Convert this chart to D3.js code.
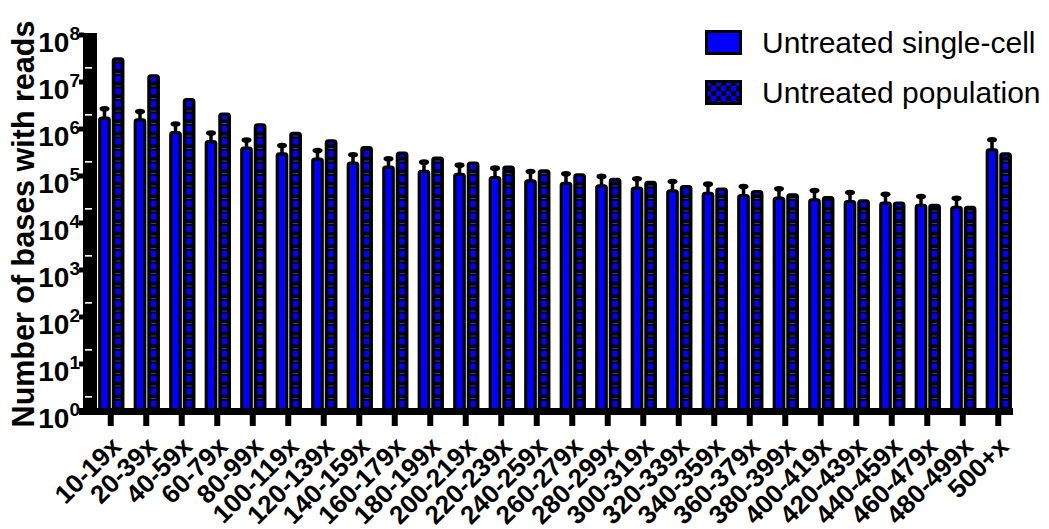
<!DOCTYPE html>
<html><head><meta charset="utf-8">
<script src="https://cdn.jsdelivr.net/npm/d3@7"></script>
<style>body{margin:0;background:#fff}svg{display:block}</style>
</head><body>
<svg id="c" width="1049" height="529"></svg>
<script>
const categories = ["10-19x","20-39x","40-59x","60-79x","80-99x","100-119x","120-139x","140-159x","160-179x","180-199x","200-219x","220-239x","240-259x","260-279x","280-299x","300-319x","320-339x","340-359x","360-379x","380-399x","400-419x","420-439x","440-459x","460-479x","480-499x","500+x"];
const singleCell = [1.7e6,1.57e6,8.4e5,5.4e5,3.9e5,2.97e5,2.28e5,1.87e5,1.54e5,1.25e5,1.09e5,9.3e4,7.9e4,7.0e4,6.2e4,5.5e4,4.84e4,4.3e4,3.85e4,3.37e4,3.12e4,2.87e4,2.64e4,2.36e4,2.14e4,3.6e5];
const singleCellErrTop = [2.7e6,2.35e6,1.28e6,8.2e5,5.8e5,4.45e5,3.5e5,2.83e5,2.32e5,1.97e5,1.7e5,1.47e5,1.25e5,1.11e5,9.8e4,8.7e4,7.6e4,6.7e4,5.98e4,5.35e4,4.9e4,4.46e4,4.1e4,3.66e4,3.37e4,5.9e5];
const population = [3.1e7,1.35e7,4.2e6,2.07e6,1.23e6,8.1e5,5.6e5,4.04e5,3.06e5,2.39e5,1.87e5,1.54e5,1.29e5,1.06e5,8.5e4,7.3e4,5.98e4,5.24e4,4.68e4,3.98e4,3.49e4,2.97e4,2.64e4,2.36e4,2.14e4,2.97e5];
const yTicks = [1,10,100,1e3,1e4,1e5,1e6,1e7,1e8];
const seriesNames = ["Untreated single-cell","Untreated population"];

const svg = d3.select("#c");
const x = d3.scaleBand().domain(categories).range([93, 1016]);
const y = d3.scaleLog().domain([1, 1e8]).range([411, 35]);
const step = x.step();
const FONT = "Liberation Sans, Arial, sans-serif";

const defs = svg.append("defs");
const pat = defs.append("pattern").attr("id","chk").attr("patternUnits","userSpaceOnUse")
  .attr("x", x(categories[0]) + x.bandwidth()/2 + 4).attr("y", 0)
  .attr("width", step).attr("height", 12.5);
pat.append("rect").attr("width", step).attr("height", 12.5).attr("fill","#000");
pat.append("rect").attr("x",0.5).attr("y",1).attr("width",5.5).attr("height",6).attr("fill","#0000ff");
pat.append("rect").attr("x",0.5).attr("y",10.5).attr("width",5.5).attr("height",0.8).attr("fill","#4a4aff");
const pat2 = defs.append("pattern").attr("id","chk2").attr("patternUnits","userSpaceOnUse")
  .attr("x", 706).attr("y", 81).attr("width", 10).attr("height", 10);
pat2.append("rect").attr("width",10).attr("height",10).attr("fill","#000");
pat2.append("rect").attr("width",5).attr("height",5).attr("fill","#0000ff");
pat2.append("rect").attr("x",5).attr("y",5).attr("width",5).attr("height",5).attr("fill","#0000ff");

const cx = d => x(d) + x.bandwidth()/2;
const g = svg.append("g");

// single-cell bars
g.selectAll(".s").data(categories).join("rect")
  .attr("x", d => cx(d) - 11).attr("width", 9.5)
  .attr("y", (d,i) => y(singleCell[i])).attr("height", (d,i) => y(1) - y(singleCell[i]))
  .attr("rx", 2).attr("fill", "#0000ff").attr("stroke", "#000").attr("stroke-width", 3.2);
// error bars
g.selectAll(".es").data(categories).join("line")
  .attr("x1", d => cx(d) - 6.25).attr("x2", d => cx(d) - 6.25)
  .attr("y1", (d,i) => y(singleCell[i])).attr("y2", (d,i) => y(singleCellErrTop[i]))
  .attr("stroke", "#000").attr("stroke-width", 3.5);
g.selectAll(".ec").data(categories).join("ellipse")
  .attr("cx", d => cx(d) - 6.25).attr("cy", (d,i) => y(singleCellErrTop[i]))
  .attr("rx", 5).attr("ry", 2.8).attr("fill", "#000");
// population bars
g.selectAll(".p").data(categories).join("rect")
  .attr("x", d => cx(d) + 2.6).attr("width", 9.5)
  .attr("y", (d,i) => y(population[i])).attr("height", (d,i) => y(1) - y(population[i]))
  .attr("rx", 2).attr("fill", "url(#chk)").attr("stroke", "#000").attr("stroke-width", 3.2);

// y axis
const ax = svg.append("g");
ax.append("rect").attr("x", 83).attr("y", y(1e8) - 2).attr("width", 14).attr("height", y(1) - y(1e8) + 6).attr("fill", "#000");
ax.selectAll(".mt").data(yTicks).join("rect")
  .attr("x", 79).attr("width", 5).attr("y", d => y(d) - 2.5).attr("height", 5).attr("fill", "#000");
ax.selectAll(".wt").data(yTicks.slice(0, -1)).join("rect")
  .attr("x", 85).attr("width", 7).attr("y", d => y(d*2) - 0.8).attr("height", 1.6).attr("fill", "#fff");
const lab = ax.selectAll(".yl").data(yTicks).join("text")
  .attr("x", 80).attr("y", d => y(d) + 17)
  .attr("text-anchor", "end").attr("font-family", FONT)
  .attr("font-weight", "bold").attr("font-size", 28);
lab.append("tspan").text("10");
lab.append("tspan").attr("font-size", 19).attr("dy", -12).text(d => Math.round(Math.log10(d)));

// x axis
ax.append("rect").attr("x", 79).attr("y", 408).attr("width", 1013 - 79).attr("height", 7).attr("fill", "#000");
ax.selectAll(".xt").data(categories).join("rect")
  .attr("x", d => cx(d) - 3).attr("width", 6).attr("y", 414).attr("height", 12).attr("fill", "#000");
ax.selectAll(".xl").data(categories).join("text")
  .attr("transform", d => `translate(${cx(d) + 12},${448}) rotate(-45)`)
  .attr("text-anchor", "end").attr("font-family", FONT)
  .attr("font-weight", "bold").attr("font-size", 26).text(d => d);

// y title
svg.append("text").attr("transform", "translate(34,224) rotate(-90)")
  .attr("text-anchor", "middle").attr("font-family", FONT)
  .attr("font-weight", "bold").attr("font-size", 30.5).text("Number of bases with reads");

// legend
const lg = svg.append("g");
const fills = ["#0000ff", "url(#chk2)"];
seriesNames.forEach((n, i) => {
  lg.append("rect").attr("x", 706.5).attr("y", 31.5 + i * 50).attr("width", 34).attr("height", 22)
    .attr("fill", fills[i]).attr("stroke", "#000").attr("stroke-width", 3);
  lg.append("text").attr("x", 762).attr("y", 53 + i * 50)
    .attr("font-family", FONT).attr("font-size", 30).text(n);
});
</script>
</body></html>
